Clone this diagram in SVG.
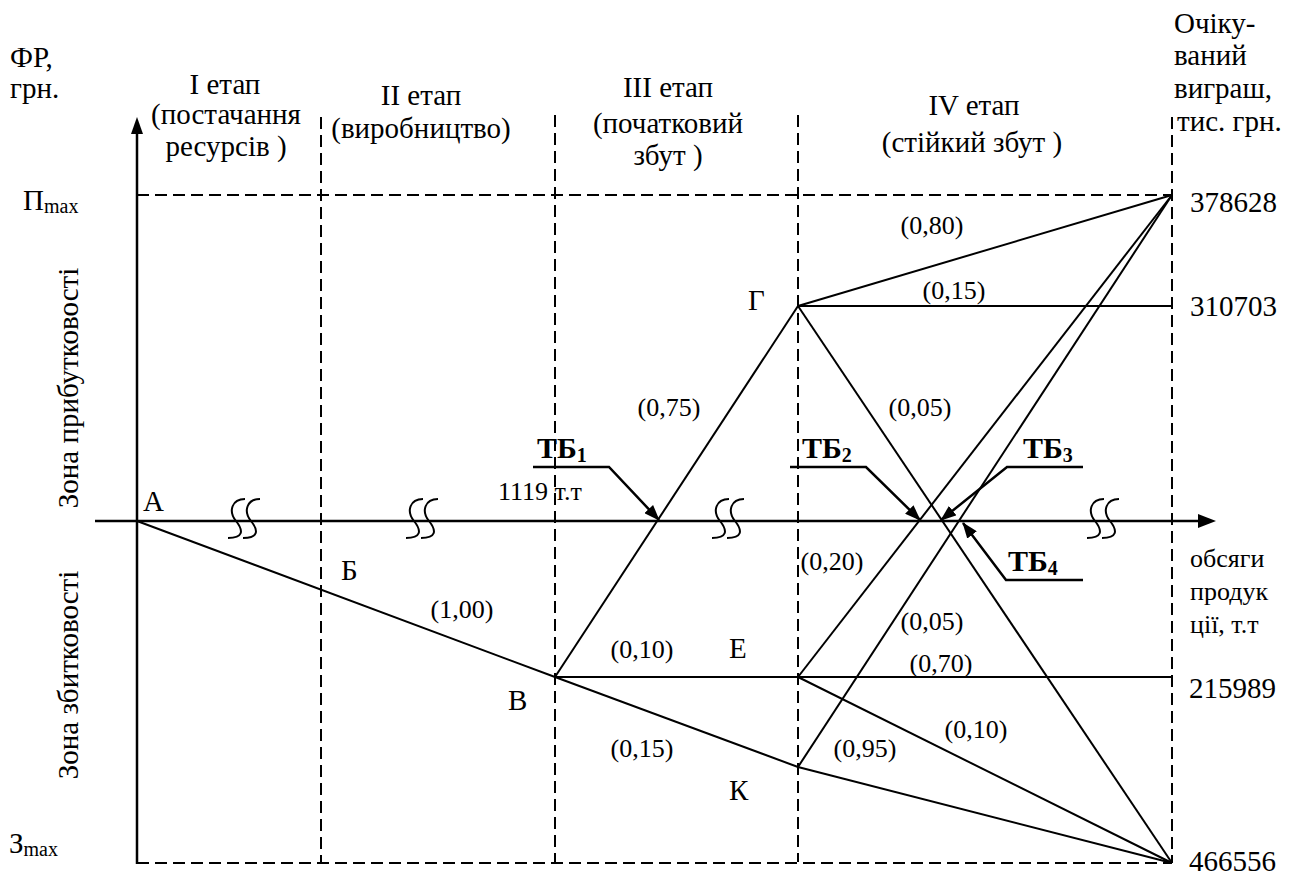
<svg xmlns="http://www.w3.org/2000/svg" width="1296" height="872" viewBox="0 0 1296 872">
<style>
text{font-family:"Liberation Serif",Tinos,"Times New Roman","Noto Serif","DejaVu Serif",FreeSerif,serif;fill:#000}
.t{font-size:29px}
.e{font-size:26px}
.m{text-anchor:middle}
.tb{font-size:30px;font-weight:bold}
.sub{font-size:20px}
.dash{stroke:#000;stroke-width:2;stroke-dasharray:12 6;fill:none}
.ln{stroke:#000;stroke-width:2;fill:none}
.ax{stroke:#000;stroke-width:2.5;fill:none}
.ld{stroke:#000;stroke-width:2.5;fill:none;marker-end:url(#ah)}
</style>
<defs>
<marker id="ah" viewBox="0 0 16 12" refX="15" refY="6" markerWidth="16" markerHeight="12" markerUnits="userSpaceOnUse" orient="auto">
<path d="M0,0 L16,6 L0,12 z" fill="#000"/>
</marker>
<path id="brk" d="M9,-22 C-4,-22 -8,-10 0,0 C8,10 7,17 -8,17" fill="none" stroke="#000" stroke-width="2"/>
</defs>

<g id="grid">
<line class="dash" x1="137" y1="195" x2="1172" y2="195"/>
<line class="dash" x1="137" y1="863" x2="1172" y2="863"/>
<line class="dash" x1="321" y1="117" x2="321" y2="862"/>
<line class="dash" x1="555" y1="115" x2="555" y2="862"/>
<line class="dash" x1="798" y1="115" x2="798" y2="862"/>
<line class="dash" x1="1172" y1="117" x2="1172" y2="863"/>
</g>

<g id="axes">
<line class="ax" x1="137" y1="864" x2="137" y2="130"/>
<polygon points="137,117 131,134 143,134" fill="#000"/>
<line class="ax" x1="95" y1="521" x2="1200" y2="521"/>
<polygon points="1216,521 1198,514 1198,528" fill="#000"/>
<use href="#brk" x="236" y="521"/><use href="#brk" x="251" y="521"/>
<use href="#brk" x="414" y="521"/><use href="#brk" x="429" y="521"/>
<use href="#brk" x="720" y="521"/><use href="#brk" x="735" y="521"/>
<use href="#brk" x="1095" y="521"/><use href="#brk" x="1110" y="521"/>
</g>

<g id="connectors">
<line class="ln" x1="137" y1="521" x2="555" y2="677"/>
<line class="ln" x1="555" y1="677" x2="798" y2="306"/>
<line class="ln" x1="555" y1="677" x2="1172" y2="677"/>
<line class="ln" x1="555" y1="677" x2="798" y2="767"/>
<line class="ln" x1="798" y1="306" x2="1172" y2="195"/>
<line class="ln" x1="798" y1="306" x2="1172" y2="306"/>
<line class="ln" x1="798" y1="306" x2="1172" y2="863"/>
<line class="ln" x1="798" y1="677" x2="1172" y2="195"/>
<line class="ln" x1="798" y1="677" x2="1172" y2="863"/>
<line class="ln" x1="798" y1="767" x2="1172" y2="195"/>
<line class="ln" x1="798" y1="767" x2="1172" y2="863"/>
</g>

<g id="leaders">
<polyline class="ld" points="533,467 609,467 659,520"/>
<polyline class="ld" points="790,467 866,467 920,520"/>
<polyline class="ld" points="1083,467 1007,467 941,520"/>
<polyline class="ld" points="1083,580 1006,580 963,523"/>
</g>

<g id="axis-labels">
<text class="t" x="10" y="67">ФР,</text>
<text class="t" x="10" y="98">грн.</text>
<text class="t" x="23" y="210">П<tspan class="sub" dy="3">max</tspan></text>
<text class="t" x="9" y="853">З<tspan class="sub" dy="3">max</tspan></text>
<text class="t m" transform="translate(78,388) rotate(-90)">Зона прибутковості</text>
<text class="t m" transform="translate(78,675) rotate(-90)">Зона збитковості</text>
<text class="e" x="1190" y="567">обсяги</text>
<text class="e" x="1190" y="600">продук</text>
<text class="e" x="1190" y="633">ції, т.т</text>
</g>

<g id="stages">
<text class="t m" x="225" y="94">I етап</text>
<text class="t m" x="226" y="124">(постачання</text>
<text class="t m" x="226" y="156">ресурсів )</text>
<text class="t m" x="421" y="105">II етап</text>
<text class="t m" x="421" y="138">(виробництво)</text>
<text class="t m" x="668" y="97">III етап</text>
<text class="t m" x="668" y="133">(початковий</text>
<text class="t m" x="668" y="165">збут )</text>
<text class="t m" x="974" y="115">IV етап</text>
<text class="t m" x="972" y="152">(стійкий збут )</text>
<text class="t" x="1174" y="33">Очіку-</text>
<text class="t" x="1174" y="65">ваний</text>
<text class="t" x="1174" y="98">виграш,</text>
<text class="t" x="1177" y="131">тис. грн.</text>
</g>

<g id="values">
<text class="t" x="1190" y="212">378628</text>
<text class="t" x="1190" y="316">310703</text>
<text class="t" x="1189" y="698">215989</text>
<text class="t" x="1189" y="871">466556</text>
</g>

<g id="node-A"><text class="t" x="143" y="511">А</text></g>
<g id="node-B"><text class="t" x="341" y="580">Б</text></g>
<g id="node-V"><text class="t" x="508" y="710">В</text></g>
<g id="node-G"><text class="t" x="748" y="310">Г</text></g>
<g id="node-E"><text class="t" x="729" y="658">Е</text></g>
<g id="node-K"><text class="t" x="729" y="800">К</text></g>

<g id="edge-labels">
<text class="e m" x="462" y="618">(1,00)</text>
<text class="e m" x="642" y="658">(0,10)</text>
<text class="e m" x="642" y="757">(0,15)</text>
<text class="e m" x="865" y="757">(0,95)</text>
<text class="e m" x="976" y="738">(0,10)</text>
<text class="e m" x="941" y="672">(0,70)</text>
<text class="e m" x="932" y="630">(0,05)</text>
<text class="e m" x="832" y="570">(0,20)</text>
<text class="e m" x="920" y="416">(0,05)</text>
<text class="e m" x="932" y="234">(0,80)</text>
<text class="e m" x="954" y="299">(0,15)</text>
<text class="e m" x="669" y="416">(0,75)</text>
<text class="e" x="498" y="500">1119 т.т</text>
</g>

<g id="tb-labels">
<text class="tb" x="537" y="458">ТБ<tspan class="sub" dy="4">1</tspan></text>
<text class="tb" x="802" y="458">ТБ<tspan class="sub" dy="4">2</tspan></text>
<text class="tb" x="1023" y="458">ТБ<tspan class="sub" dy="4">3</tspan></text>
<text class="tb" x="1008" y="571">ТБ<tspan class="sub" dy="4">4</tspan></text>
</g>
</svg>
